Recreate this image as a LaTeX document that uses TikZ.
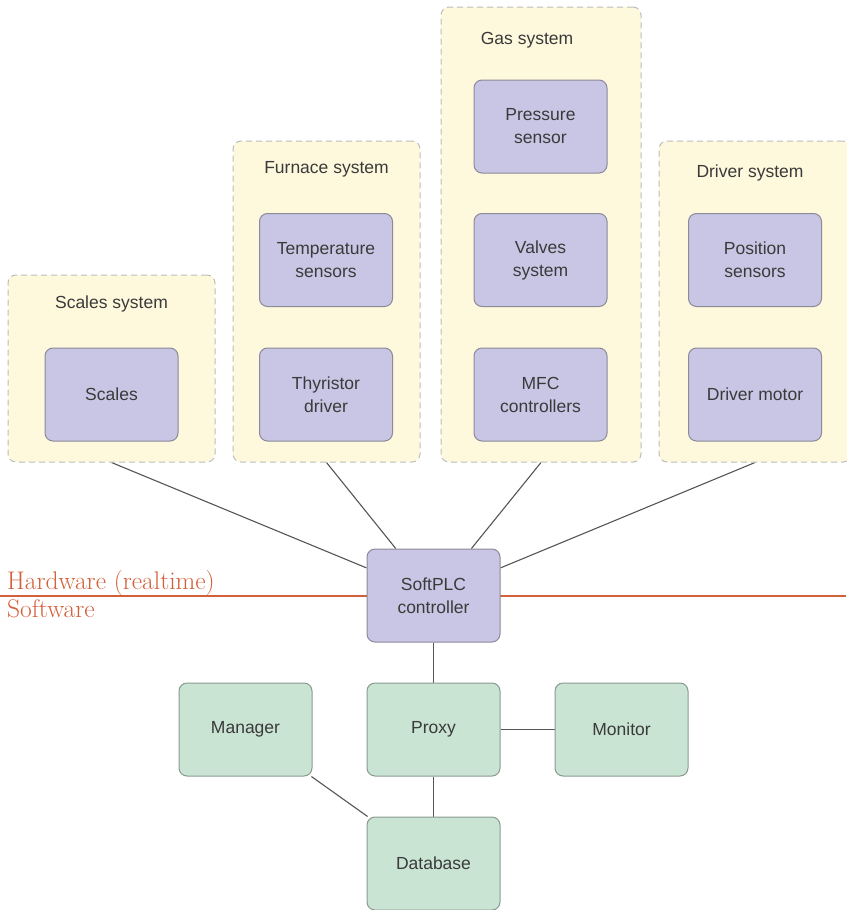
\documentclass[tikz,border=0pt]{standalone}
\usepackage{fontspec}
\setsansfont{Liberation Sans}
\pgfdeclarelayer{bg}
\pgfsetlayers{bg,main}
\definecolor{grpfill}{HTML}{FEF8DC}
\definecolor{grpdraw}{HTML}{BDBDBD}
\definecolor{hwfill}{HTML}{C8C6E4}
\definecolor{hwdraw}{HTML}{8A8A99}
\definecolor{swfill}{HTML}{C9E4D3}
\definecolor{swdraw}{HTML}{8A9A90}
\definecolor{sepred}{HTML}{D2603A}
\definecolor{txt}{HTML}{3A3A3A}
\definecolor{conn}{HTML}{555555}
\tikzset{
  grp/.style={draw=grpdraw, fill=grpfill, dashed, dash pattern=on 6pt off 4pt, line width=1pt, rounded corners=8pt, inner sep=0pt},
  grptitle/.style={font=\sffamily\fontsize{17.5}{21}\selectfont, text=txt, anchor=center},
  hwbox/.style={draw=hwdraw, fill=hwfill, line width=1pt, rounded corners=8pt, minimum width=133pt, minimum height=93pt, inner sep=0pt, align=center, font=\sffamily\fontsize{17.5}{23}\selectfont, text=txt},
  swbox/.style={hwbox, draw=swdraw, fill=swfill},
  link/.style={draw=conn, line width=1.1pt},
  seplabel/.style={text=sepred, font=\fontsize{25.5}{30}\selectfont, anchor=base west, inner sep=0pt}
}
\begin{document}
\begin{tikzpicture}[x=1pt,y=-1pt]
\useasboundingbox (0,0) rectangle (846,910);
% groups
\node[grp, minimum width=207pt, minimum height=187pt] (sg) at (111.5,368.5) {};
\node[grp, minimum width=187pt, minimum height=321pt] (fg) at (326.5,301.5) {};
\node[grp, minimum width=200pt, minimum height=455pt] (gg) at (541,234.5) {};
\node[grp, minimum width=192pt, minimum height=321pt] (dg) at (755,301.5) {};
\node[grptitle] (sgt) at (111.5,304) {Scales system};
\node[grptitle] (fgt) at (326.5,169) {Furnace system};
\node[grptitle] (ggt) at (527,40) {Gas system};
\node[grptitle] (dgt) at (750,173) {Driver system};
% hardware boxes
\node[hwbox] (scales) at (111.5,394.5) {Scales};
\node[hwbox] (temp) at (326,260) {Temperature\\sensors};
\node[hwbox] (thy) at (326,394.5) {Thyristor\\driver};
\node[hwbox] (press) at (540.5,126.5) {Pressure\\sensor};
\node[hwbox] (valves) at (540.5,260) {Valves\\system};
\node[hwbox] (mfc) at (540.5,394.5) {MFC\\controllers};
\node[hwbox] (pos) at (755,260) {Position\\sensors};
\node[hwbox] (motor) at (755,394.5) {Driver motor};
\node[hwbox] (plc) at (433.5,595.5) {SoftPLC\\controller};
% software boxes
\node[swbox] (mgr) at (245.5,729.5) {Manager};
\node[swbox] (proxy) at (433.5,729.5) {Proxy};
\node[swbox] (mon) at (621.5,729.5) {Monitor};
\node[swbox] (db) at (433.5,863.5) {Database};
% separator
\coordinate (sepL) at (0,596);
\coordinate (sepR) at (846,596);
\node[seplabel] (hwlab) at (7,589) {Hardware (realtime)};
\node[seplabel] (swlab) at (7,617) {Software};
\begin{pgfonlayer}{bg}
\draw[sepred, line width=1.1pt] (sepL) -- (sepR);
\draw[link] (sg.south) -- (plc);
\draw[link] (fg.south) -- (plc);
\draw[link] (gg.south) -- (plc);
\draw[link] (dg.south) -- (plc);
\draw[link] (plc) -- (proxy);
\draw[link] (proxy) -- (mon);
\draw[link] (proxy) -- (db);
\draw[link] (mgr) -- (db);
\end{pgfonlayer}
\end{tikzpicture}
\end{document}
